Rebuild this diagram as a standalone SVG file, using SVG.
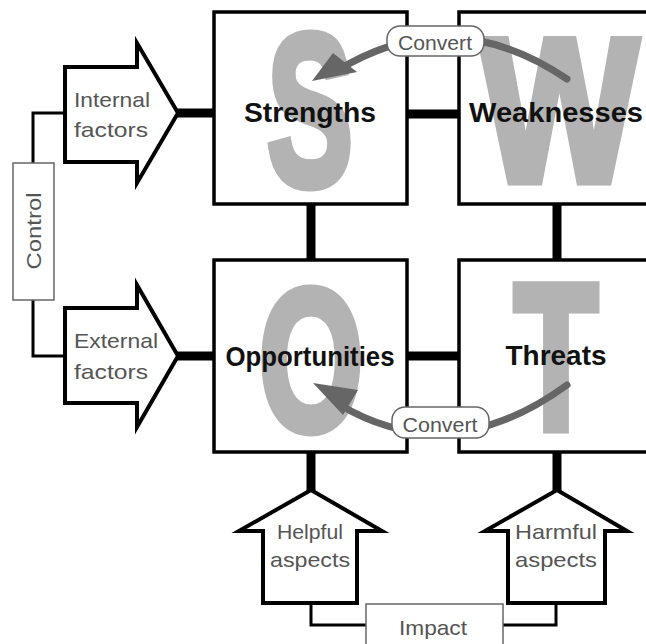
<svg xmlns="http://www.w3.org/2000/svg" width="646" height="644" viewBox="0 0 646 644">
<style>
.box{fill:#fff;stroke:#000;stroke-width:3.5}
.big{font-family:"Liberation Sans",Arial,sans-serif;font-weight:bold;fill:#b3b3b3;stroke:#b3b3b3;stroke-width:9;stroke-linejoin:miter}
.lbl{font-family:"Liberation Sans",Arial,sans-serif;font-weight:bold;font-size:27px;fill:#111}
.hand{font-family:"Liberation Sans",Arial,sans-serif;font-size:21px;fill:#555}
.arrow{fill:#fff;stroke:#000;stroke-width:4;stroke-linejoin:miter}
.thick{stroke:#000;stroke-width:9;fill:none}
.thin{stroke:#000;stroke-width:3;fill:none}
.tag{fill:#fff;stroke:#666;stroke-width:1.5}
.conv{stroke:#666;stroke-width:7;fill:none;stroke-linecap:round}
.head{fill:#666}
</style>
<rect width="646" height="644" fill="#fff"/>
<g id="connectors">
<line class="thick" x1="176" y1="113" x2="214" y2="113"/>
<line class="thick" x1="176" y1="356" x2="214" y2="356"/>
<line class="thick" x1="407" y1="114" x2="459" y2="114"/>
<line class="thick" x1="407" y1="356" x2="459" y2="356"/>
<line class="thick" x1="311" y1="204" x2="311" y2="260"/>
<line class="thick" x1="557" y1="204" x2="557" y2="260"/>
<line class="thick" x1="311" y1="452" x2="311" y2="492"/>
<line class="thick" x1="557" y1="452" x2="557" y2="492"/>
<path class="thin" d="M65 113 H33 V163"/>
<path class="thin" d="M33 300 V356 H65"/>
<path class="thin" d="M311 603 V625 H366"/>
<path class="thin" d="M556 603 V625 H503"/>
</g>
<g id="strengths">
<rect class="box" x="214" y="12" width="193" height="192"/>
<text class="big" x="267" y="185" font-size="216" textLength="86" lengthAdjust="spacingAndGlyphs">S</text>
</g>
<g id="weaknesses">
<rect class="box" x="459" y="12" width="200" height="192"/>
<text class="big" x="481" y="181" font-size="205" textLength="157" lengthAdjust="spacingAndGlyphs">W</text>
</g>
<g id="opportunities">
<rect class="box" x="214" y="260" width="193" height="192"/>
<text class="big" x="259" y="430" font-size="202" textLength="104" lengthAdjust="spacingAndGlyphs">O</text>
</g>
<g id="threats">
<rect class="box" x="459" y="260" width="200" height="192"/>
<text class="big" x="514" y="429" font-size="207" textLength="84" lengthAdjust="spacingAndGlyphs">T</text>
</g>
<g id="convert-top">
<path class="conv" d="M567 79 Q450 0 335 72"/>
<polygon class="head" points="312,81 333,53 357,72"/>
<rect class="tag" x="387" y="26" width="97" height="30" rx="13"/>
<text class="hand" x="435" y="50" text-anchor="middle" textLength="74" lengthAdjust="spacingAndGlyphs">Convert</text>
</g>
<g id="convert-bottom">
<path class="conv" d="M567 385 Q450 470 340 405"/>
<polygon class="head" points="313,383 358,390 343,415"/>
<rect class="tag" x="392" y="407" width="97" height="31" rx="13"/>
<text class="hand" x="440" y="432" text-anchor="middle" textLength="75" lengthAdjust="spacingAndGlyphs">Convert</text>
</g>
<g id="labels">
<text class="lbl" x="310" y="122" text-anchor="middle" textLength="132" lengthAdjust="spacingAndGlyphs">Strengths</text>
<text class="lbl" x="556" y="122" text-anchor="middle" textLength="174" lengthAdjust="spacingAndGlyphs">Weaknesses</text>
<text class="lbl" x="310" y="366" text-anchor="middle" textLength="169" lengthAdjust="spacingAndGlyphs">Opportunities</text>
<text class="lbl" x="556" y="365" text-anchor="middle" textLength="101" lengthAdjust="spacingAndGlyphs">Threats</text>
</g>
<g id="internal">
<polygon class="arrow" points="65,67 137,67 137,43 178,113 137,183 137,162 65,162"/>
<text class="hand" x="74" y="107" textLength="76" lengthAdjust="spacingAndGlyphs">Internal</text>
<text class="hand" x="74" y="137" textLength="74" lengthAdjust="spacingAndGlyphs">factors</text>
</g>
<g id="external">
<polygon class="arrow" points="65,308 137,308 137,285 178,356 137,427 137,403 65,403"/>
<text class="hand" x="74" y="348" textLength="84" lengthAdjust="spacingAndGlyphs">External</text>
<text class="hand" x="74" y="379" textLength="74" lengthAdjust="spacingAndGlyphs">factors</text>
</g>
<g id="control">
<rect class="tag" x="13" y="163" width="41" height="137"/>
<text class="hand" transform="translate(41,231) rotate(-90)" x="0" y="0" text-anchor="middle" textLength="77" lengthAdjust="spacingAndGlyphs">Control</text>
</g>
<g id="helpful">
<polygon class="arrow" points="311,490 382,531 357,531 357,603 263,603 263,531 239,531"/>
<text class="hand" x="310" y="539" text-anchor="middle" textLength="66" lengthAdjust="spacingAndGlyphs">Helpful</text>
<text class="hand" x="310" y="567" text-anchor="middle" textLength="80" lengthAdjust="spacingAndGlyphs">aspects</text>
</g>
<g id="harmful">
<polygon class="arrow" points="557,490 627,531 605,531 605,603 508,603 508,531 485,531"/>
<text class="hand" x="556" y="539" text-anchor="middle" textLength="82" lengthAdjust="spacingAndGlyphs">Harmful</text>
<text class="hand" x="556" y="567" text-anchor="middle" textLength="82" lengthAdjust="spacingAndGlyphs">aspects</text>
</g>
<g id="impact">
<rect class="tag" x="366" y="604" width="137" height="50"/>
<text class="hand" x="433" y="635" text-anchor="middle" textLength="68" lengthAdjust="spacingAndGlyphs">Impact</text>
</g>
</svg>
